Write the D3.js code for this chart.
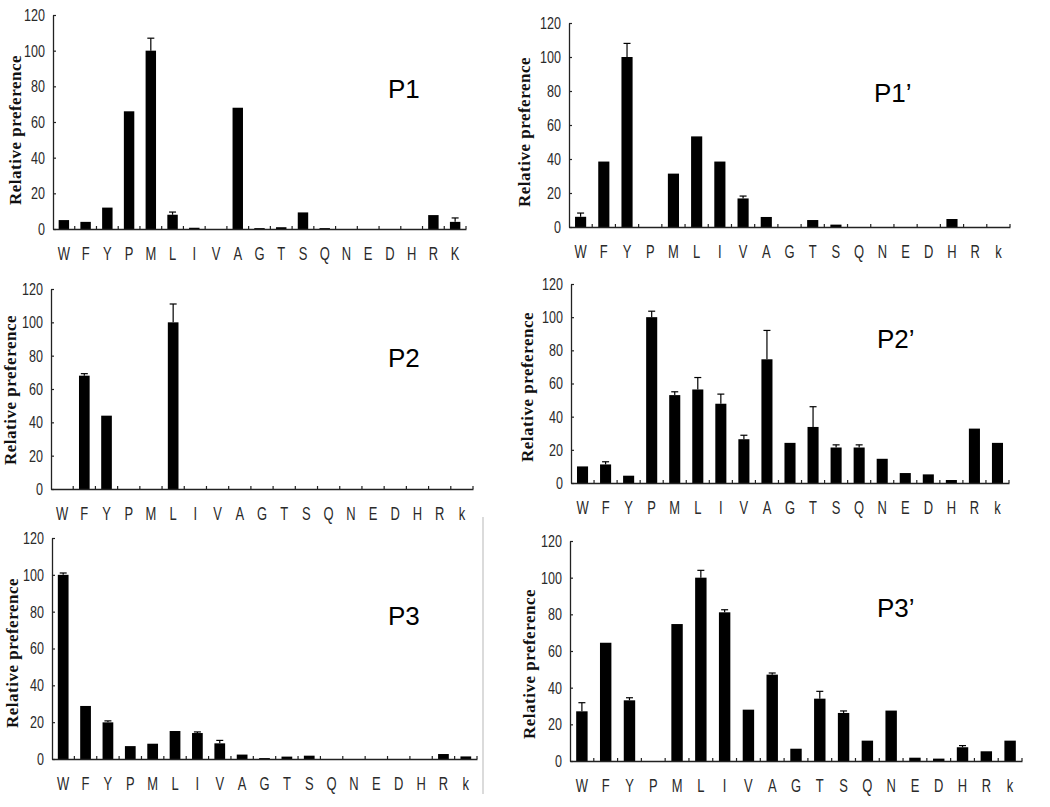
<!DOCTYPE html>
<html>
<head>
<meta charset="utf-8">
<script src="https://cdn.jsdelivr.net/npm/d3@7"></script>
<style>
  html, body { margin: 0; padding: 0; background: #fff; }
  svg { display: block; }
</style>
</head>
<body>
<svg id="chart" width="1050" height="807"></svg>
<script>
// ---------------- DATA ----------------
const categories = ["W","F","Y","P","M","L","I","V","A","G","T","S","Q","N","E","D","H","R","K"];
const tickLabelsUpperK = ["W","F","Y","P","M","L","I","V","A","G","T","S","Q","N","E","D","H","R","K"];
const tickLabelsLowerK = ["W","F","Y","P","M","L","I","V","A","G","T","S","Q","N","E","D","H","R","k"];
const yTicks = [0, 20, 40, 60, 80, 100, 120];
const panelTitles = ["P1", "P1\u2019", "P2", "P2\u2019", "P3", "P3\u2019"];
const yAxisTitle = "Relative preference";

const p1Values   = [5, 4, 12, 66, 100, 8, 0.7, 0, 68, 0.5, 1, 9.3, 0.5, 0, 0, 0, 0, 7.8, 4];
const p1Errors   = [0, 0, 0, 0, 7, 1.5, 0, 0, 0, 0, 0, 0, 0, 0, 0, 0, 0, 0, 2.2];
const p1pValues  = [6, 38.5, 100, 0, 31.4, 53.3, 38.5, 16.8, 5.9, 0, 4.1, 1.4, 0, 0, 0, 0, 4.7, 0, 0];
const p1pErrors  = [2.2, 0, 8, 0, 0, 0, 0, 1.4, 0, 0, 0, 0, 0, 0, 0, 0, 0, 0, 0];
const p2Values   = [0, 68, 44, 0, 0, 100, 0, 0, 0, 0, 0, 0, 0, 0, 0, 0, 0, 0, 0];
const p2Errors   = [0, 1.2, 0, 0, 0, 11, 0, 0, 0, 0, 0, 0, 0, 0, 0, 0, 0, 0, 0];
const p2pValues  = [10, 11.2, 4.4, 100, 53, 56.4, 47.8, 26.4, 74.6, 24.2, 33.8, 21.4, 21.4, 14.6, 6, 5.2, 1.8, 32.8, 24.2];
const p2pErrors  = [0, 1.6, 0, 3.6, 2, 7.2, 5.8, 2.4, 17.4, 0, 12.2, 1.6, 1.6, 0, 0, 0, 0, 0, 0];
const p3Values   = [100, 28.8, 19.9, 7, 8.3, 15.2, 14.1, 8.5, 2.4, 0.5, 1.3, 1.8, 0, 0, 0, 0, 0, 2.7, 1.4];
const p3Errors   = [1, 0, 0.8, 0, 0, 0, 0.6, 1.6, 0, 0, 0, 0, 0, 0, 0, 0, 0, 0, 0];
const p3pValues  = [27.1, 64.5, 33.1, 0, 74.7, 100, 81.1, 28, 47.1, 6.7, 34, 26.2, 11.1, 27.5, 1.8, 1.3, 7.5, 5.3, 11.1];
const p3pErrors  = [4.7, 0, 1.4, 0, 0, 4, 1.4, 0, 0.9, 0, 4, 1.1, 0, 0, 0, 0, 0.9, 0, 0];

// ---------------- LAYOUT ----------------
const panels = [
  { title: panelTitles[0], values: p1Values,  errors: p1Errors,  labels: tickLabelsUpperK,
    x0: 53,  x1: 466,  yTop: 15,  yZero: 229, titleX: 388, titleY: 98,  yTitleX: 21,  yTitleY: 130 },
  { title: panelTitles[1], values: p1pValues, errors: p1pErrors, labels: tickLabelsLowerK,
    x0: 569, x1: 1010, yTop: 23,  yZero: 227, titleX: 874, titleY: 102, yTitleX: 530, yTitleY: 132 },
  { title: panelTitles[2], values: p2Values,  errors: p2Errors,  labels: tickLabelsLowerK,
    x0: 51,  x1: 473,  yTop: 289, yZero: 489, titleX: 388, titleY: 367, yTitleX: 16,  yTitleY: 390 },
  { title: panelTitles[3], values: p2pValues, errors: p2pErrors, labels: tickLabelsLowerK,
    x0: 571, x1: 1009, yTop: 284, yZero: 483, titleX: 877, titleY: 348, yTitleX: 533, yTitleY: 387 },
  { title: panelTitles[4], values: p3Values,  errors: p3Errors,  labels: tickLabelsLowerK,
    x0: 52,  x1: 477,  yTop: 538, yZero: 759, titleX: 388, titleY: 625, yTitleX: 18,  yTitleY: 653 },
  { title: panelTitles[5], values: p3pValues, errors: p3pErrors, labels: tickLabelsLowerK,
    x0: 570, x1: 1022, yTop: 541, yZero: 761, titleX: 877, titleY: 617, yTitleX: 535, yTitleY: 664 }
];

const svg = d3.select("#chart");

// thin gray separator line
svg.append("line")
  .attr("x1", 483).attr("x2", 483).attr("y1", 517).attr("y2", 794)
  .attr("stroke", "#cfcfcf").attr("stroke-width", 1.5);

panels.forEach(p => {
  const g = svg.append("g");
  const x = d3.scaleBand().domain(categories).range([p.x0, p.x1])
    .paddingInner(0.52).paddingOuter(0.26);
  const y = d3.scaleLinear().domain([0, 120]).range([p.yZero, p.yTop]);
  const step = x.step();

  // bars
  g.selectAll("rect.bar").data(categories).join("rect")
    .attr("class", "bar")
    .attr("x", (c) => x(c))
    .attr("width", x.bandwidth())
    .attr("y", (c, i) => y(p.values[i]))
    .attr("height", (c, i) => y(0) - y(p.values[i]))
    .attr("fill", "#000");

  // error bars (upper)
  const errData = categories.map((c, i) => ({ c, v: p.values[i], e: p.errors[i] })).filter(d => d.e > 0);
  g.selectAll("line.err").data(errData).join("line")
    .attr("class", "err")
    .attr("x1", d => x(d.c) + x.bandwidth() / 2)
    .attr("x2", d => x(d.c) + x.bandwidth() / 2)
    .attr("y1", d => y(d.v))
    .attr("y2", d => y(d.v + d.e))
    .attr("stroke", "#000").attr("stroke-width", 1.2);
  g.selectAll("line.cap").data(errData).join("line")
    .attr("class", "cap")
    .attr("x1", d => x(d.c) + x.bandwidth() / 2 - 3.5)
    .attr("x2", d => x(d.c) + x.bandwidth() / 2 + 3.5)
    .attr("y1", d => y(d.v + d.e))
    .attr("y2", d => y(d.v + d.e))
    .attr("stroke", "#000").attr("stroke-width", 1.2);

  // y axis
  const yAx = g.append("g").attr("transform", `translate(${p.x0},0)`)
    .call(d3.axisLeft(y).tickValues(yTicks).tickSize(-3).tickPadding(8).tickSizeOuter(0));
  yAx.select(".domain").attr("stroke", "#222").attr("stroke-width", 1.3);
  yAx.selectAll(".tick line").attr("stroke", "#222").attr("stroke-width", 1.2);
  yAx.selectAll(".tick text")
    .attr("x", null)
    .attr("transform", "translate(-8,0) scale(0.74,1)")
    .attr("font-family", "'Liberation Sans', Arial, sans-serif")
    .attr("font-size", 17)
    .attr("fill", "#2a2a2a");

  // x axis: labels
  const xAx = g.append("g").attr("transform", `translate(0,${p.yZero})`)
    .call(d3.axisBottom(x).tickSize(0).tickPadding(0).tickSizeOuter(0)
      .tickFormat((c, i) => p.labels[i]));
  xAx.select(".domain").attr("stroke", "#222").attr("stroke-width", 1.3);
  xAx.selectAll(".tick text")
    .attr("y", null).attr("dy", null)
    .attr("transform", "translate(0,31) scale(0.72,1)")
    .attr("font-family", "'Liberation Sans', Arial, sans-serif")
    .attr("font-size", 18)
    .attr("fill", "#2a2a2a");
  // x axis: boundary ticks (inside, upward)
  g.selectAll("line.xtick").data(categories).join("line")
    .attr("class", "xtick")
    .attr("x1", c => x(c) + x.bandwidth() + (step - x.bandwidth()) / 2)
    .attr("x2", c => x(c) + x.bandwidth() + (step - x.bandwidth()) / 2)
    .attr("y1", p.yZero)
    .attr("y2", p.yZero - 3)
    .attr("stroke", "#222").attr("stroke-width", 1.2);

  // y title
  g.append("text")
    .attr("transform", `translate(${p.yTitleX},${p.yTitleY}) rotate(-90)`)
    .attr("text-anchor", "middle")
    .attr("font-family", "'Liberation Serif', 'Times New Roman', serif")
    .attr("font-weight", "bold")
    .attr("font-size", 17)
    .attr("letter-spacing", 0.5)
    .attr("fill", "#111")
    .text(yAxisTitle);

  // panel title
  g.append("text")
    .attr("x", p.titleX).attr("y", p.titleY)
    .attr("font-family", "'Liberation Sans', Arial, sans-serif")
    .attr("font-size", 26)
    .attr("fill", "#000")
    .text(p.title);
});
</script>
</body>
</html>
